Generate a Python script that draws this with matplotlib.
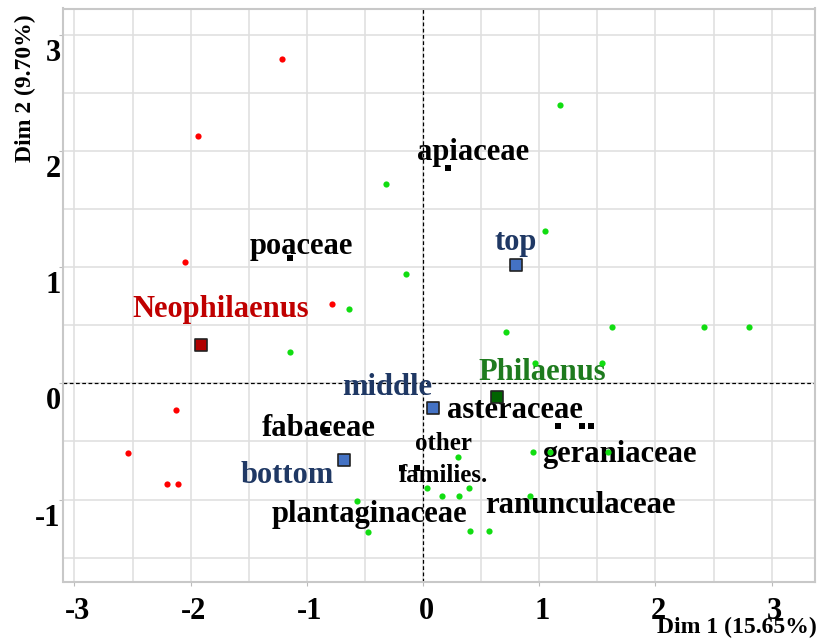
import numpy as np
import matplotlib.pyplot as plt
from matplotlib.transforms import ScaledTranslation

# individuals, Neophilaenus group
neo_x = [-1.216, -1.934, -2.051, -0.781, -2.126, -2.536, -2.206, -2.108]
neo_y = [2.793, 2.126, 1.047, 0.680, -0.232, -0.602, -0.869, -0.869]

# individuals, Philaenus group
phi_x = [-0.321, -0.146, -0.637, 1.176, 1.047, -1.147, -0.565, -0.473,
         0.714, 1.626, 2.418, 2.808, 0.964, 1.538, 0.298, 0.949, 1.093,
         1.595, 0.037, 0.161, 0.310, 0.396, 0.924, 0.407, 0.571]
phi_y = [1.718, 0.941, 0.637, 2.392, 1.308, 0.267, -1.013, -1.280,
         0.441, 0.487, 0.487, 0.487, 0.178, 0.178, -0.637, -0.594, -0.589,
         -0.594, -0.898, -0.967, -0.967, -0.904, -0.970, -1.268, -1.268]

# supplementary categories (genus and height)
sup_names = ["Neophilaenus", "Philaenus", "top", "middle", "bottom"]
sup_x = [-1.911, 0.640, 0.797, 0.089, -0.680]
sup_y = [0.330, -0.121, 1.015, -0.215, -0.663]

# plant family categories
fam_x = [-1.142, 0.218, -0.823, -0.178, -0.054, 1.165, 1.366, 1.443]
fam_y = [1.081, 1.856, -0.402, -0.727, -0.727, -0.367, -0.367, -0.367]

family_names = ["poaceae", "apiaceae", "fabaceae", "asteraceae",
                "geraniaceae", "ranunculaceae", "plantaginaceae"]

plt.rcParams['font.family'] = ['Liberation Serif', 'DejaVu Serif']
plt.rcParams['font.weight'] = 'bold'
plt.rcParams['axes.unicode_minus'] = False

fig = plt.figure(figsize=(8.2, 6.41), dpi=100)
ax = fig.add_axes([63.5 / 820, 59.3 / 641, 751.5 / 820, 573.2 / 641])

ax.set_xlim(-3.094, 3.373)
ax.set_ylim(-1.707, 3.226)

ax.set_xticks(np.arange(-3, 4, 1))
ax.set_yticks(np.arange(-1, 4, 1))
ax.set_xticks(np.arange(-3, 3.5, 0.5), minor=True)
ax.set_yticks(np.arange(-1.5, 3.5, 0.5), minor=True)
ax.grid(True, which='both', color='#e0e0e0', linewidth=1.2, zorder=0)
ax.set_axisbelow(True)
ax.tick_params(which='minor', length=0)
ax.tick_params(which='major', length=3, color='#bbbbbb', labelsize=22)
ax.tick_params(axis='y', pad=-1)
ax.tick_params(axis='x', pad=8)
for s in ax.spines.values():
    s.set_color('#c8c8c8')
    s.set_linewidth(1.5)

# tick labels sit a little off their grid lines
for lab in ax.get_yticklabels():
    lab.set_transform(lab.get_transform() + ScaledTranslation(0, -0.15, fig.dpi_scale_trans))
for lab in ax.get_xticklabels():
    lab.set_transform(lab.get_transform() + ScaledTranslation(0.03, 0, fig.dpi_scale_trans))

ax.axhline(0, color='black', linestyle=(0, (3, 2)), linewidth=0.9, zorder=1)
ax.axvline(0, color='black', linestyle=(0, (3, 2)), linewidth=0.9, zorder=1)

# labels
txt = dict(fontsize=22, fontweight='bold', ha='center', va='baseline', zorder=3)
label_pos = {
    "poaceae": (-1.050, 1.113),
    "apiaceae": (0.430, 1.922),
    "fabaceae": (-0.897, -0.454),
    "asteraceae": (0.789, -0.301),
    "geraniaceae": (1.693, -0.675),
    "ranunculaceae": (1.351, -1.113),
    "plantaginaceae": (-0.465, -1.191),
}
for name in family_names:
    x, y = label_pos[name]
    ax.text(x, y, name, color='black', **txt)
ax.text(0.179, -0.574, "other", color='black', **{**txt, 'fontsize': 18})
ax.text(0.176, -0.847, "families.", color='black', **{**txt, 'fontsize': 18})

sup_label_pos = {
    "Neophilaenus": (-1.738, 0.573),
    "Philaenus": (1.024, 0.028),
    "top": (0.800, 1.147),
    "middle": (-0.306, -0.101),
    "bottom": (-1.170, -0.861),
}
sup_label_color = {"Neophilaenus": '#c00000', "Philaenus": '#1e7b1e',
                   "top": '#1f3864', "middle": '#1f3864', "bottom": '#1f3864'}
sup_fill = {"Neophilaenus": '#b00000', "Philaenus": '#006400',
            "top": '#4472c4', "middle": '#4472c4', "bottom": '#4472c4'}
for name in sup_names:
    x, y = sup_label_pos[name]
    ax.text(x, y, name, color=sup_label_color[name], **txt)

# points
ax.scatter(neo_x, neo_y, s=20, color='#ff0000', linewidths=0, zorder=4)
ax.scatter(phi_x, phi_y, s=20, color='#11dd11', linewidths=0, zorder=4)
ax.scatter(fam_x, fam_y, s=16, marker='s', color='black', linewidths=0, zorder=4)
for name, x, y in zip(sup_names, sup_x, sup_y):
    ax.scatter([x], [y], s=70, marker='s', color=sup_fill[name],
               edgecolors='#222222', linewidths=1.2, zorder=5)

fig.text(25 / 820, 1 - 88 / 641, "Dim 2 (9.70%)", rotation=90, fontsize=17,
         fontweight='bold', ha='center', va='center')
fig.text(817 / 820, 8 / 641, "Dim 1 (15.65%)", fontsize=17,
         fontweight='bold', ha='right', va='baseline')

fig.savefig("out.png", dpi=100)
